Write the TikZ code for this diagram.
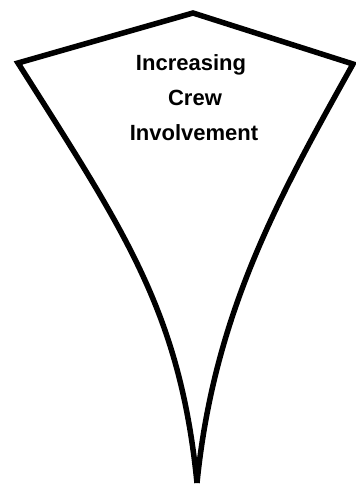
\documentclass[tikz,border=0pt]{standalone}
\usepackage{fontspec}
\setmainfont{Liberation Sans}
\begin{document}
\begin{tikzpicture}[x=1pt,y=-1pt,
  outline/.style={line width=5.5pt, line join=miter, miter limit=10, line cap=butt},
  label/.style={anchor=base, inner sep=0pt, font=\bfseries\fontsize{22}{26}\selectfont}]
\useasboundingbox (0,0) rectangle (356,485);
\coordinate (tip) at (197,483);
\coordinate (lc) at (18,63);
\coordinate (top) at (193,13);
\coordinate (rc) at (353,64);
\draw[outline] (tip) .. controls (180,312) and (125,232) .. (lc)
  -- (top) -- (rc)
  .. controls (280,195) and (214,312) .. (tip);
\node[label] (l1) at (191,70) {Increasing};
\node[label] (l2) at (195,105) {Crew};
\node[label] (l3) at (194,140) {Involvement};
\end{tikzpicture}
\end{document}
